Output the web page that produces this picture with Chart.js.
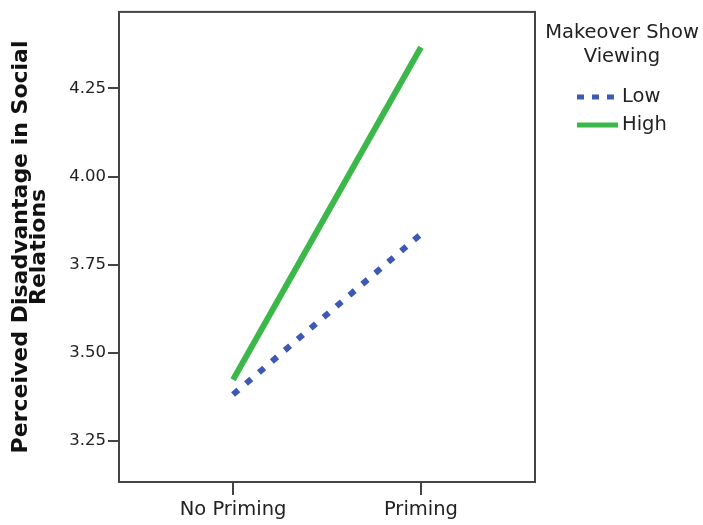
<!DOCTYPE html>
<html>
<head>
<meta charset="utf-8">
<script src="https://cdn.jsdelivr.net/npm/chart.js@4/dist/chart.umd.min.js"></script>
<style>
  html, body { margin: 0; padding: 0; background: #ffffff; }
  #wrap { width: 703px; height: 525px; position: relative; }
</style>
</head>
<body>
<div id="wrap"><canvas id="c" width="703" height="525"></canvas></div>
<script>
// ---- data ----
const categories = ["No Priming", "Priming"];
const seriesNames = ["Low", "High"];
const lowValues = [3.382, 3.837];
const highValues = [3.424, 4.367];
const yTickValues = [3.25, 3.50, 3.75, 4.00, 4.25];
const yTitleLines = ["Perceived Disadvantage in Social", "Relations"];
const legendTitleLines = ["Makeover Show", "Viewing"];

const BLUE = '#3f58b4';
const GREEN = '#3cb84a';
const FRAME = '#444444';
const TEXT = '#222222';
const FONT = '"DejaVu Sans", "Liberation Sans", Arial, sans-serif';

const toPoints = vals => vals.map((v, i) => ({ x: i, y: v }));

const framePlugin = {
  id: 'frame',
  afterDatasetsDraw(chart) {
    const { ctx, chartArea: a } = chart;
    ctx.save();
    ctx.strokeStyle = FRAME;
    ctx.lineWidth = 2;
    ctx.strokeRect(a.left, a.top, a.right - a.left, a.bottom - a.top);
    ctx.restore();
  }
};

const legendPlugin = {
  id: 'sideLegend',
  afterDraw(chart) {
    const { ctx } = chart;
    ctx.save();
    ctx.fillStyle = TEXT;
    ctx.font = '19.5px ' + FONT;
    ctx.textAlign = 'center';
    ctx.textBaseline = 'middle';
    const cx = 622;
    legendTitleLines.forEach((t, i) => ctx.fillText(t, cx, 33 + i * 24));
    const rowY = [97, 125];
    chart.data.datasets.forEach((ds, i) => {
      const y = rowY[i];
      ctx.beginPath();
      ctx.strokeStyle = ds.borderColor;
      ctx.lineWidth = 5;
      ctx.setLineDash(ds.borderDash && ds.borderDash.length ? [7, 8] : []);
      ctx.moveTo(577, y);
      ctx.lineTo(618, y);
      ctx.stroke();
      ctx.setLineDash([]);
      ctx.textAlign = 'left';
      ctx.fillText(ds.label, 622, y);
    });
    ctx.restore();
  }
};

new Chart(document.getElementById('c'), {
  type: 'line',
  data: {
    datasets: [
      {
        label: seriesNames[0],
        data: toPoints(lowValues),
        borderColor: BLUE,
        backgroundColor: BLUE,
        borderWidth: 6,
        borderDash: [7, 10],
        borderCapStyle: 'butt',
        pointRadius: 0,
        tension: 0
      },
      {
        label: seriesNames[1],
        data: toPoints(highValues),
        borderColor: GREEN,
        backgroundColor: GREEN,
        borderWidth: 6,
        borderCapStyle: 'butt',
        pointRadius: 0,
        tension: 0
      }
    ]
  },
  options: {
    responsive: false,
    animation: false,
    events: [],
    layout: { padding: { top: 11, right: 168, left: 0, bottom: 0 } },
    plugins: {
      legend: { display: false },
      tooltip: { enabled: false },
      title: { display: false }
    },
    scales: {
      x: {
        type: 'linear',
        min: -0.607,
        max: 1.607,
        afterBuildTicks: s => { s.ticks = categories.map((c, i) => ({ value: i })); },
        afterFit: s => { s.height = 43; },
        ticks: {
          callback: v => categories[v],
          color: TEXT,
          font: { family: FONT, size: 19.5 },
          padding: 3,
          maxRotation: 0,
          autoSkip: false
        },
        grid: { drawOnChartArea: false, tickLength: 13, color: FRAME, lineWidth: 2 },
        border: { display: true, color: FRAME, width: 2 }
      },
      y: {
        type: 'linear',
        min: 3.134,
        max: 4.467,
        afterBuildTicks: s => { s.ticks = yTickValues.map(v => ({ value: v })); },
        afterFit: s => { s.width = 119; },
        ticks: {
          callback: v => Number(v).toFixed(2),
          color: TEXT,
          font: { family: FONT, size: 16.5 },
          padding: 2
        },
        grid: { drawOnChartArea: false, tickLength: 11, color: FRAME, lineWidth: 2 },
        border: { display: true, color: FRAME, width: 2 },
        title: {
          display: true,
          text: yTitleLines,
          color: '#111111',
          font: { family: FONT, size: 22, weight: 'bold', lineHeight: 0.82 },
          padding: { top: 12, bottom: 0 }
        }
      }
    }
  },
  plugins: [framePlugin, legendPlugin]
});
</script>
</body>
</html>
